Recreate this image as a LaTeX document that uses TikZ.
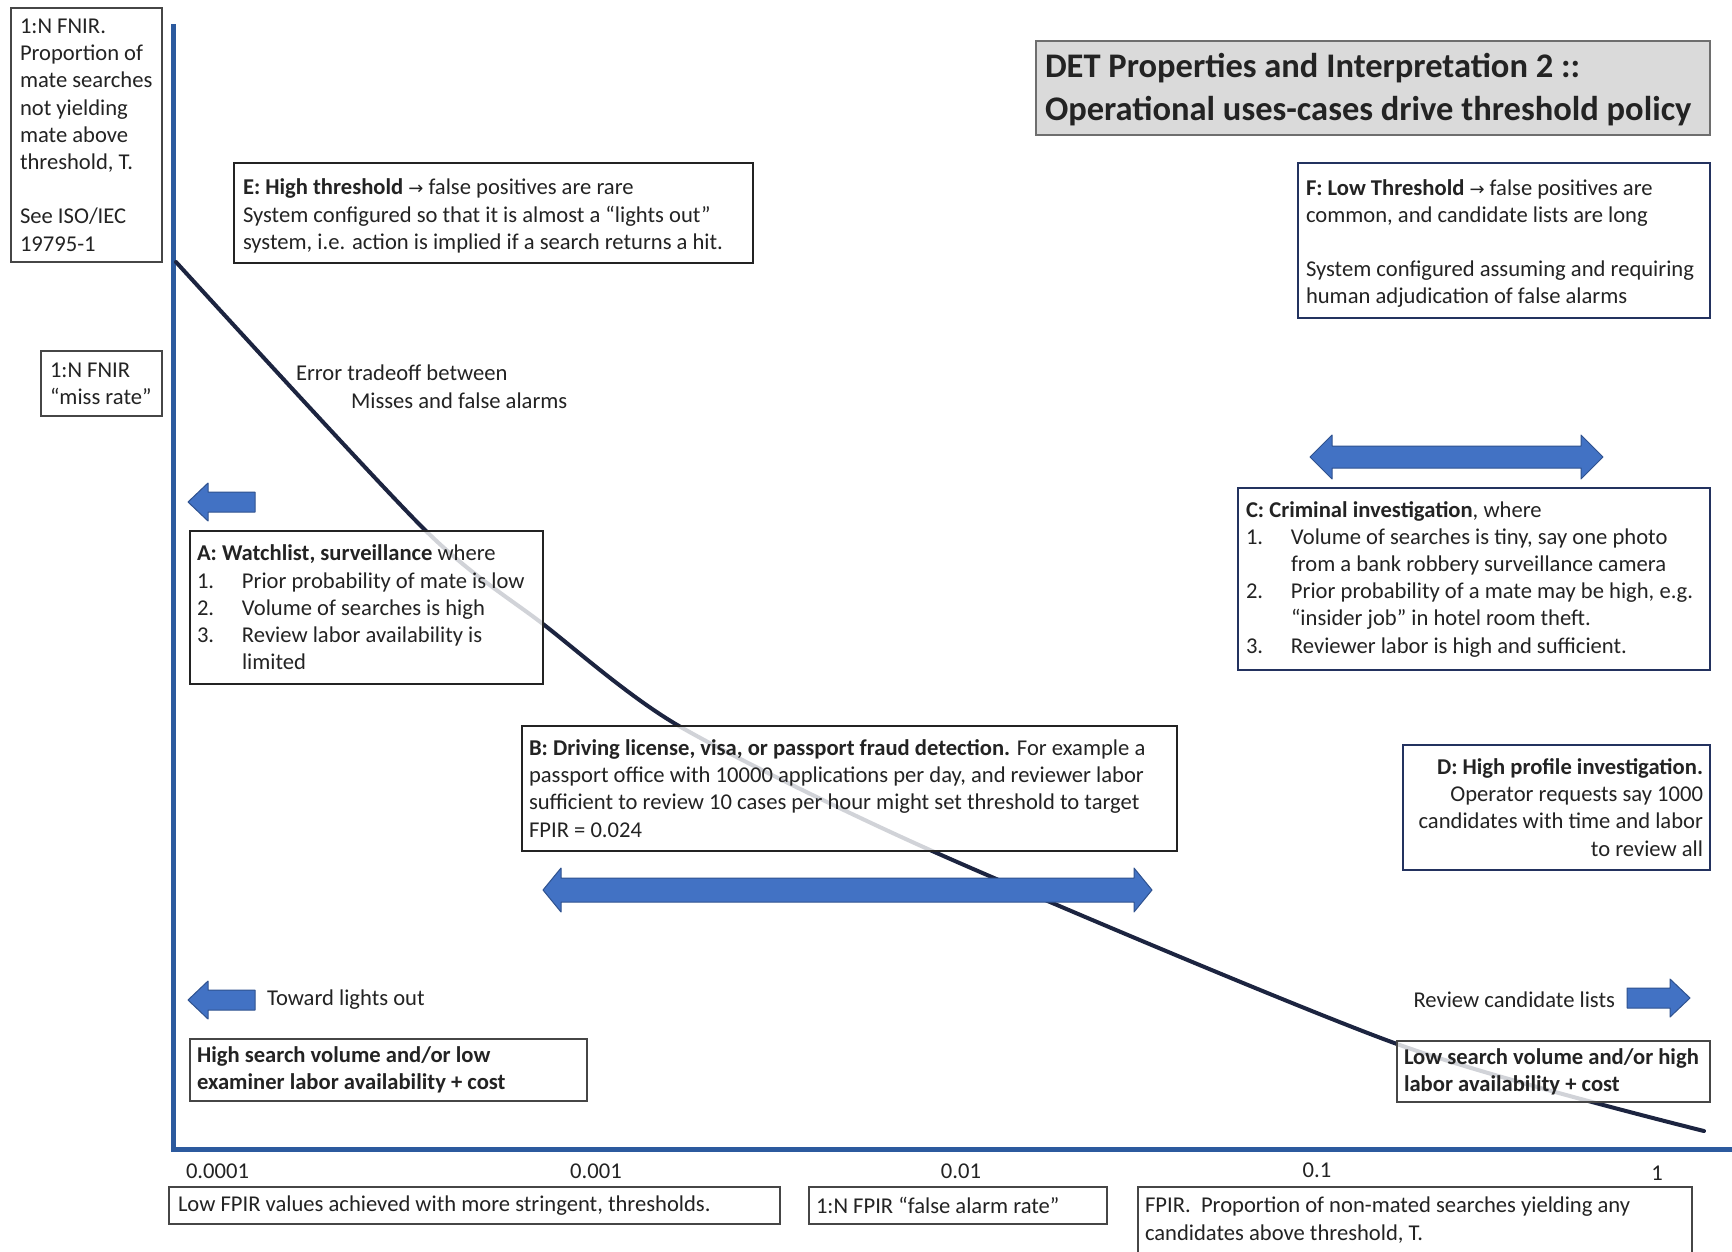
\documentclass[tikz,border=0pt]{standalone}
\usepackage{fontspec}
\setmainfont{Carlito}
\newfontfamily\symfont{DejaVu Sans}
\definecolor{ink}{RGB}{35,35,35}
\definecolor{boxline}{RGB}{70,70,70}
\definecolor{navyline}{RGB}{35,50,95}
\definecolor{axisblue}{RGB}{44,90,158}
\definecolor{curvenavy}{RGB}{28,36,64}
\definecolor{arrowfill}{RGB}{66,114,196}
\definecolor{arrowedge}{RGB}{47,82,143}
\definecolor{titlefill}{RGB}{218,218,218}
\definecolor{titleline}{RGB}{110,110,110}
\newcommand\mybody{\fontsize{22.6}{27.2}\selectfont}
\newcommand\mytitle{\fontsize{34.5}{43}\selectfont\bfseries}
\newcommand\arr{{\symfont\fontsize{18}{18}\selectfont →}}
\newcommand\itemno[1]{\makebox[45pt][l]{#1}}
\begin{document}
\begin{tikzpicture}[x=1pt,y=-1pt,
  every node/.style={inner sep=0pt, outer sep=0pt},
  box/.style={rectangle, draw=boxline, line width=1.6pt, fill=white, fill opacity=0.8, anchor=north west},
  navybox/.style={box, draw=navyline},
  titlebox/.style={rectangle, draw=titleline, line width=2.4pt, fill=titlefill, anchor=north west},
  txt/.style={text=ink, font=\mybody, align=left, anchor=west},
  rtxt/.style={text=ink, font=\mybody, align=right, anchor=east},
  tick/.style={text=ink, font=\mybody},
  axis/.style={draw=axisblue, line width=5pt},
  curve/.style={draw=curvenavy, line width=4pt, line cap=round},
  blk/.style={fill=arrowfill, draw=arrowedge, line width=1pt, line join=round}
]
\useasboundingbox (0,0) rectangle (1732,1251);
\fill[white] (0,0) rectangle (1732,1251);

% axes and the DET curve
\draw[axis] (173,24) -- (173,1149) -- (1732,1149);
\coordinate (curveStart) at (176,262);
\coordinate (curveEnd) at (1704,1131);
\draw[curve] plot[smooth, tension=0.45] coordinates
  {(curveStart) (425,530) (543,624) (679,726) (939,854) (1397,1044) (curveEnd)};

% left axis description
\node[box, minimum width=151pt, minimum height=254pt] (fnirBox) at (11,8) {};
\node[txt] (fnirTxt) at ([xshift=9pt]fnirBox.west)
  {1:N FNIR.\\Proportion of\\mate searches\\not yielding\\mate above\\threshold, T.\\[27.2pt]See ISO/IEC\\19795-1};
\node[box, minimum width=121pt, minimum height=65pt] (missBox) at (41,351) {};
\node[txt] (missTxt) at ([xshift=9pt]missBox.west) {1:N FNIR\\“miss rate”};

% title
\node[titlebox, minimum width=674pt, minimum height=94pt] (titleBox) at (1036,41) {};
\node[txt, font=\mytitle] (titleTxt) at ([xshift=9pt,yshift=-2pt]titleBox.west)
  {DET Properties and Interpretation 2 ::\\Operational uses-cases drive threshold policy};

% E and F
\node[box, draw=ink, minimum width=519pt, minimum height=100pt] (eBox) at (234,163) {};
\node[txt] (eTxt) at ([xshift=9pt,yshift=-3pt]eBox.west)
  {\textbf{E: High threshold} \arr{} false positives are rare\\System configured so that it is almost a “lights out”\\system, i.e. action is implied if a search returns a hit.};
\node[navybox, minimum width=412pt, minimum height=155pt] (fBox) at (1298,163) {};
\node[txt] (fTxt) at ([xshift=8pt,yshift=-3pt]fBox.west)
  {\textbf{F: Low Threshold} \arr{} false positives are\\common, and candidate lists are long\\[27.2pt]System configured assuming and requiring\\human adjudication of false alarms};

% curve annotation
\node[txt] (errA) at (296,373) {Error tradeoff between};
\node[txt] (errB) at (351,401) {Misses and false alarms};

% A
\fill[blk] (188,502) -- (208,483) -- (208,492) -- (255,492) -- (255,512) -- (208,512) -- (208,521) -- cycle;
\node[box, draw=ink, minimum width=353pt, minimum height=153pt] (aBox) at (190,531) {};
\node[txt] (aTxt) at ([xshift=7pt]aBox.west)
  {\textbf{A: Watchlist, surveillance} where\\\itemno{1.}Prior probability of mate is low\\\itemno{2.}Volume of searches is high\\\itemno{3.}Review labor availability is\\\hspace*{45pt}limited};

% C
\fill[blk] (1310,457) -- (1332,435) -- (1332,446) -- (1581,446) -- (1581,435) -- (1603,457) -- (1581,479) -- (1581,468) -- (1332,468) -- (1332,479) -- cycle;
\node[navybox, minimum width=472pt, minimum height=182pt] (cBox) at (1238,488) {};
\node[txt] (cTxt) at ([xshift=8pt]cBox.west)
  {\textbf{C: Criminal investigation}, where\\\itemno{1.}Volume of searches is tiny, say one photo\\\hspace*{45pt}from a bank robbery surveillance camera\\\itemno{2.}Prior probability of a mate may be high, e.g.\\\hspace*{45pt}“insider job” in hotel room theft.\\\itemno{3.}Reviewer labor is high and sufficient.};

% B
\node[box, draw=ink, minimum width=655pt, minimum height=125pt] (bBox) at (522,726) {};
\node[txt] (bTxt) at ([xshift=7pt]bBox.west)
  {\textbf{B: Driving license, visa, or passport fraud detection.} For example a\\passport office with 10000 applications per day, and reviewer labor\\sufficient to review 10 cases per hour might set threshold to target\\FPIR = 0.024};
\fill[blk] (543,890) -- (561,868) -- (561,878) -- (1134,878) -- (1134,868) -- (1152,890) -- (1134,912) -- (1134,902) -- (561,902) -- (561,912) -- cycle;

% D
\node[navybox, minimum width=307pt, minimum height=125pt] (dBox) at (1403,745) {};
\node[rtxt] (dTxt) at ([xshift=-7pt]dBox.east)
  {\textbf{D: High profile investigation.}\\Operator requests say 1000\\candidates with time and labor\\to review all};

% direction hints
\fill[blk] (188,1000) -- (208,981) -- (208,990) -- (255,990) -- (255,1010) -- (208,1010) -- (208,1019) -- cycle;
\node[txt] (towardTxt) at (267,1000) {Toward lights out};
\node[box, minimum width=397pt, minimum height=62pt] (hsvBox) at (190,1039) {};
\node[txt] (hsvTxt) at ([xshift=7pt]hsvBox.west)
  {\textbf{High search volume and/or low}\\\textbf{examiner labor availability + cost}};

\node[rtxt] (reviewTxt) at (1615,1000) {Review candidate lists};
\fill[blk] (1690,998) -- (1670,1017) -- (1670,1008) -- (1627,1008) -- (1627,988) -- (1670,988) -- (1670,979) -- cycle;
\node[box, minimum width=313pt, minimum height=61pt] (lsvBox) at (1397,1041) {};
\node[txt] (lsvTxt) at ([xshift=7pt]lsvBox.west)
  {\textbf{Low search volume and/or high}\\\textbf{labor availability + cost}};

% x axis ticks
\node[tick, anchor=west] (tk4) at (186,1171) {0.0001};
\node[tick] (tk3) at (596,1171) {0.001};
\node[tick] (tk2) at (961,1171) {0.01};
\node[tick] (tk1) at (1317,1170) {0.1};
\node[tick] (tk0) at (1657,1173) {1};

% x axis descriptions
\node[box, minimum width=611pt, minimum height=37pt] (lowBox) at (169,1187) {};
\node[txt] (lowTxt) at ([xshift=9pt]lowBox.west) {Low FPIR values achieved with more stringent, thresholds.};
\node[box, minimum width=298pt, minimum height=37pt] (fpirBox) at (809,1187) {};
\node[txt] (fpirTxt) at ([xshift=7pt]fpirBox.west) {1:N FPIR “false alarm rate”};
\node[box, minimum width=554pt, minimum height=66pt] (defBox) at (1138,1187) {};
\node[txt] (defTxt) at ([xshift=7pt]defBox.west)
  {FPIR.\ \ Proportion of non-mated searches yielding any\\candidates above threshold, T.};
\end{tikzpicture}
\end{document}
